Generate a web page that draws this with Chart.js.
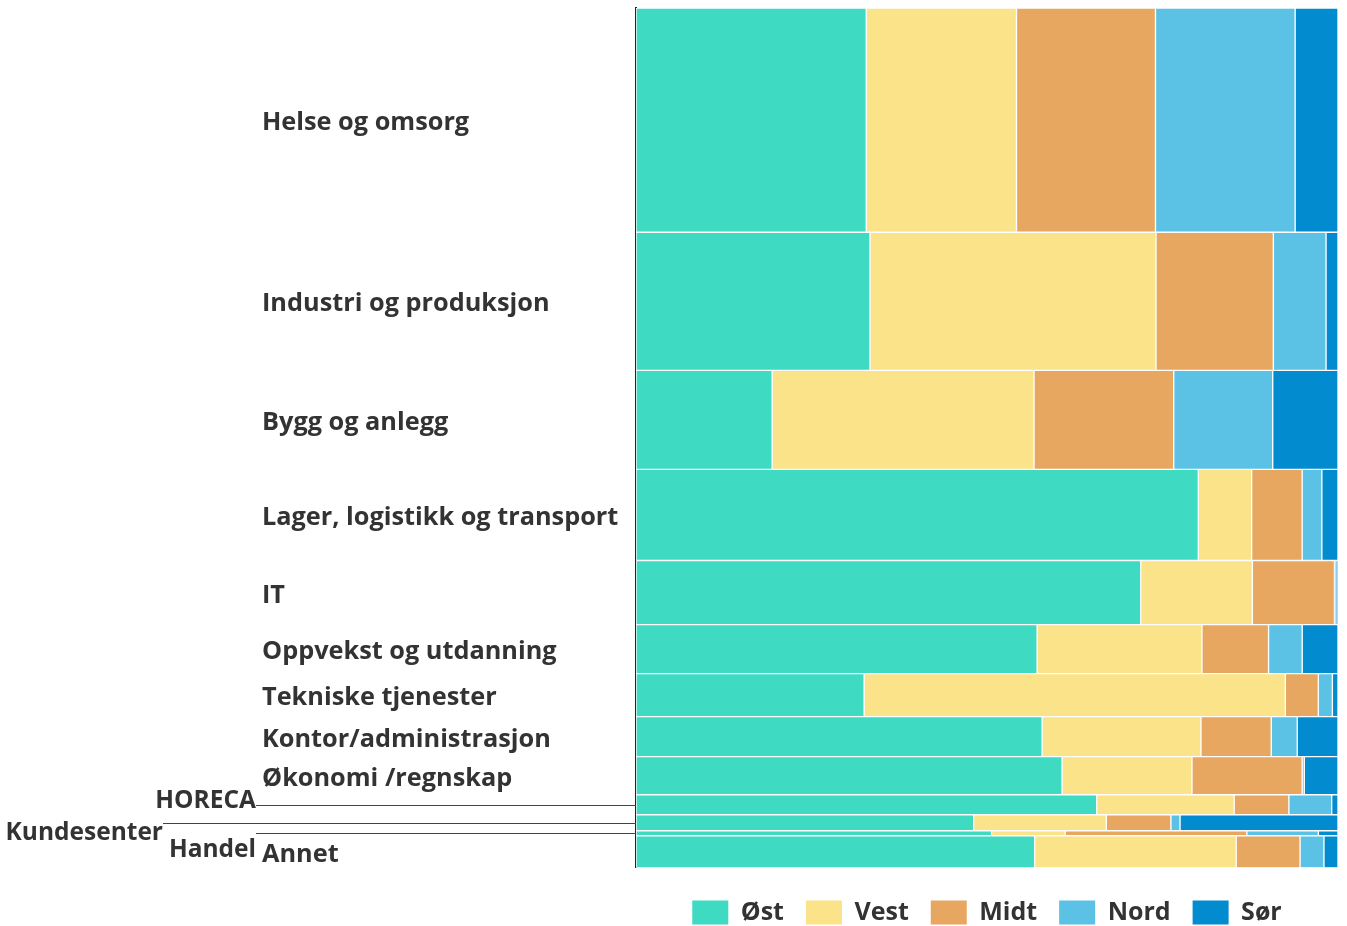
<!DOCTYPE html>
<html>
<head>
<meta charset="utf-8">
<script src="https://cdn.jsdelivr.net/npm/chart.js@4"></script>
<style>
  html, body { margin: 0; padding: 0; background: #fff; }
  #wrap { width: 1347px; height: 926px; }
</style>
</head>
<body>
<div id="wrap"><canvas id="mekko"></canvas></div>
<script>
// rows (top to bottom) and their weight = row height
const categories = ['Helse og omsorg', 'Industri og produksjon', 'Bygg og anlegg',
  'Lager, logistikk og transport', 'IT', 'Oppvekst og utdanning', 'Tekniske tjenester',
  'Kontor/administrasjon', 'Økonomi /regnskap', 'HORECA', 'Kundesenter', 'Handel', 'Annet'];
const rowTotals = [224, 138, 99, 91, 64, 49, 43, 40, 38, 20, 16, 5, 32];

// share of each region within a row (%)
const regions = ['Øst', 'Vest', 'Midt', 'Nord', 'Sør'];
const ost  = [32.8, 33.3, 19.4, 80.1, 71.9, 57.2, 32.5, 57.8, 60.7, 65.7, 48.1, 50.7, 56.8];
const vest = [21.4, 40.7, 37.3,  7.6, 15.9, 23.5, 60.0, 22.6, 18.5, 19.6, 18.9, 10.5, 28.7];
const midt = [19.8, 16.7, 19.9,  7.2, 11.7,  9.5,  4.7, 10.0, 15.7,  7.8,  9.2, 25.9,  9.1];
const nord = [19.9,  7.5, 14.1,  2.8,  0.2,  4.8,  2.0,  3.7,  0.3,  6.1,  1.3, 10.2,  3.4];
const sor  = [ 6.1,  1.7,  9.3,  2.3,  0.3,  5.1,  0.8,  5.8,  4.8,  0.9, 22.5,  2.8,  2.0];

// small rows labelled with a leader line instead of a tick
const leaderLabels = ['HORECA', 'Kundesenter', 'Handel'];

const colors = ['#3EDAC2', '#FBE389', '#E7A760', '#5BC2E6', '#028BCF'];
const textColor = '#333';
const font = '"Open Sans", "Noto Sans", sans-serif';

const shares = [ost, vest, midt, nord, sor];
const grandTotal = rowTotals.reduce((a, b) => a + b, 0);
const rowStart = [];
let acc = 0;
rowTotals.forEach(v => { rowStart.push(acc); acc += v; });
const rowCenter = rowTotals.map((v, i) => rowStart[i] + v / 2);

const datasets = categories.map((cat, r) => {
  const sum = shares.reduce((a, s) => a + s[r], 0);
  let x = 0;
  const data = shares.map(s => {
    const a = x;
    x += s[r] / sum * 100;
    return { y: rowCenter[r], x: [a, x] };
  });
  return {
    label: cat,
    data,
    backgroundColor: colors,
    borderColor: '#fff',
    borderWidth: 1,
    borderSkipped: false,
    grouped: false,
    barThickness: ctx => {
      const y = ctx.chart.scales.y;
      return Math.abs(y.getPixelForValue(rowTotals[r]) - y.getPixelForValue(0));
    }
  };
});

const leaderDx = [-6, -99, -6];
const leaderDy = [2, 16, 23];
const leaderPlugin = {
  id: 'leaders',
  afterDraw(chart) {
    const { ctx, chartArea, scales: { y } } = chart;
    ctx.save();
    ctx.font = 'bold 24.5px ' + font;
    ctx.fillStyle = textColor;
    ctx.strokeStyle = '#444';
    ctx.lineWidth = 1;
    ctx.textAlign = 'right';
    ctx.textBaseline = 'alphabetic';
    leaderLabels.forEach((name, k) => {
      const r = categories.indexOf(name);
      const py = Math.round(y.getPixelForValue(rowCenter[r])) + 0.5;
      const lx = y.left + leaderDx[k];
      ctx.beginPath();
      ctx.moveTo(lx, py);
      ctx.lineTo(chartArea.left, py);
      ctx.stroke();
      ctx.fillText(name, lx, py + leaderDy[k]);
    });
    ctx.restore();
  }
};

new Chart(document.getElementById('mekko'), {
  type: 'bar',
  data: { datasets },
  plugins: [leaderPlugin],
  options: {
    indexAxis: 'y',
    responsive: true,
    maintainAspectRatio: false,
    animation: false,
    layout: { padding: { left: 262, top: 8, right: 9, bottom: -9 } },
    scales: {
      x: { type: 'linear', min: 0, max: 100, display: false },
      y: {
        type: 'linear',
        min: 0,
        max: grandTotal,
        reverse: true,
        offset: false,
        grid: { display: false },
        border: { display: true, color: '#222', width: 2 },
        afterFit: s => { s.width = 374; s.paddingTop = 0; s.paddingBottom = 0; },
        afterBuildTicks: s => {
          s.ticks = rowCenter
            .filter((v, i) => !leaderLabels.includes(categories[i]))
            .map(v => ({ value: v }));
        },
        ticks: {
          autoSkip: false,
          crossAlign: 'far',
          labelOffset: 3,
          color: textColor,
          font: { family: font, size: 25.3, weight: 'bold' },
          callback: v => categories[rowCenter.indexOf(v)]
        }
      }
    },
    plugins: {
      tooltip: { enabled: false },
      legend: {
        position: 'bottom',
        fullSize: false,
        onClick: null,
        title: { display: true, text: '', font: { size: 1 }, padding: { top: 9, bottom: 0 } },
        labels: {
          boxWidth: 36,
          boxHeight: 24,
          padding: 22,
          color: textColor,
          font: { family: font, size: 25, weight: 'bold' },
          generateLabels: () => regions.map((name, i) => ({
            text: name, fillStyle: colors[i], strokeStyle: colors[i], fontColor: textColor,
            lineWidth: 0, hidden: false, index: i
          }))
        }
      }
    }
  }
});
</script>
</body>
</html>
